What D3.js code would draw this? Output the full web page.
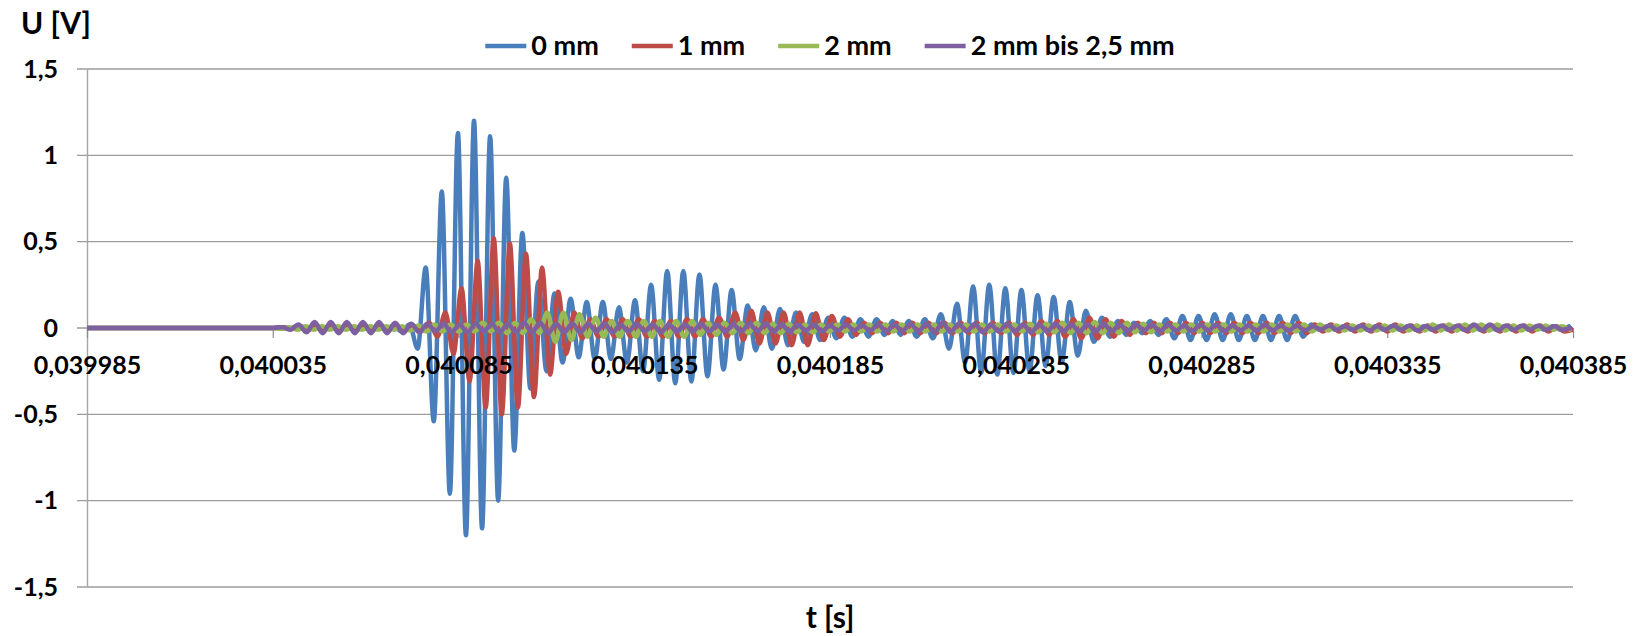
<!DOCTYPE html>
<html>
<head>
<meta charset="utf-8">
<script src="https://cdn.jsdelivr.net/npm/d3@7"></script>
<style>
  body { margin: 0; background: #fff; }
  svg { display: block; font-family: Lato, sans-serif; font-weight: bold; }
</style>
</head>
<body>
<div id="root"></div>
<script>
// ---- data ----
const seriesNames = ['0 mm', '1 mm', '2 mm', '2 mm bis 2,5 mm'];
const xTickValues = [0.039985, 0.040035, 0.040085, 0.040135, 0.040185, 0.040235, 0.040285, 0.040335, 0.040385];
const yTickValues = [-1.5, -1, -0.5, 0, 0.5, 1, 1.5];

// signal is flat until gridStart, then samples every half period (the extrema of the oscillation)
const tFirst = 0.039985;
const gridStart = 0.040035;
const halfPeriod = 2.167e-6;
const phases = [0, 0.45, 0.1, 0.2];

const values0mm = [
  0, 0.005, -0.005, 0.01, -0.01, 0.01, -0.01, 0.01, -0.01, 0.01,
  -0.01, 0.01, -0.01, 0.01, -0.01, 0.015, -0.02, 0.02, -0.12, 0.35,
  -0.54, 0.79, -0.96, 1.13, -1.2, 1.2, -1.16, 1.11, -1.0, 0.87,
  -0.71, 0.55, -0.35, 0.27, -0.25, 0.2, -0.2, 0.17, -0.17, 0.15,
  -0.18, 0.15, -0.18, 0.12, -0.2, 0.16, -0.25, 0.25, -0.3, 0.33,
  -0.32, 0.33, -0.31, 0.31, -0.28, 0.25, -0.24, 0.22, -0.18, 0.13,
  -0.13, 0.12, -0.12, 0.11, -0.1, 0.09, -0.08, 0.08, -0.07, 0.06,
  -0.06, 0.06, -0.05, 0.05, -0.05, 0.05, -0.04, 0.04, -0.04, 0.04,
  -0.05, 0.05, -0.06, 0.08, -0.12, 0.14, -0.2, 0.24, -0.26, 0.25,
  -0.27, 0.23, -0.26, 0.22, -0.25, 0.19, -0.22, 0.18, -0.2, 0.15,
  -0.16, 0.1, -0.08, 0.06, -0.05, 0.04, -0.04, 0.03, -0.03, 0.04,
  -0.04, 0.05, -0.06, 0.07, -0.07, 0.07, -0.07, 0.08, -0.07, 0.08,
  -0.07, 0.07, -0.07, 0.07, -0.07, 0.07, -0.07, 0.07, -0.05, 0.02,
  -0.01, 0.01, -0.01, 0.01, -0.01, 0.01, -0.01, 0.01, -0.01, 0.01,
  -0.01, 0.01, -0.01, 0.01, -0.01, 0.01, -0.01, 0.01, -0.01, 0.01,
  -0.01, 0.01, -0.01, 0.01, -0.01, 0.01, -0.01, 0.01, -0.01, 0.01, -0.01, 0.01
];

const values1mm = [
  0, 0.005, -0.005, 0.01, -0.01, 0.01, -0.01, 0.01, -0.01, 0.01,
  -0.01, 0.01, -0.01, 0.01, -0.01, 0.01, -0.01, 0.015, -0.02, 0.03,
  -0.05, 0.09, -0.15, 0.23, -0.31, 0.39, -0.46, 0.52, -0.5, 0.49,
  -0.46, 0.43, -0.4, 0.35, -0.27, 0.21, -0.15, 0.09, -0.06, 0.05,
  -0.05, 0.05, -0.05, 0.05, -0.05, 0.05, -0.05, 0.04, -0.05, 0.04,
  -0.05, 0.05, -0.05, 0.05, -0.05, 0.06, -0.05, 0.09, -0.07, 0.1,
  -0.09, 0.09, -0.09, 0.09, -0.1, 0.09, -0.1, 0.085, -0.07, 0.07,
  -0.05, 0.05, -0.04, 0.03, -0.03, 0.03, -0.03, 0.03, -0.03, 0.03,
  -0.03, 0.03, -0.03, 0.03, -0.03, 0.03, -0.03, 0.03, -0.03, 0.03,
  -0.03, 0.03, -0.04, 0.03, -0.04, 0.04, -0.04, 0.04, -0.05, 0.05,
  -0.06, 0.06, -0.06, 0.05, -0.05, 0.04, -0.04, 0.03, -0.03, 0.03,
  -0.03, 0.03, -0.03, 0.03, -0.03, 0.03, -0.03, 0.03, -0.03, 0.03,
  -0.03, 0.03, -0.03, 0.03, -0.03, 0.03, -0.03, 0.03, -0.03, 0.02,
  -0.02, 0.02, -0.02, 0.02, -0.02, 0.02, -0.02, 0.02, -0.02, 0.02,
  -0.02, 0.015, -0.02, 0.015, -0.02, 0.015, -0.02, 0.015, -0.02, 0.015,
  -0.02, 0.015, -0.02, 0.015, -0.02, 0.015, -0.02, 0.015, -0.02, 0.01, -0.02, -0.01
];

const values2mm = [
  0, -0.005, 0.005, -0.01, 0.01, -0.01, 0.01, -0.01, 0.01, -0.01,
  0.01, -0.01, 0.01, -0.01, 0.01, -0.01, 0.01, -0.015, 0.015, -0.02,
  0.02, -0.02, 0.02, -0.02, 0.02, -0.02, 0.03, -0.02, 0.03, -0.03,
  0.03, -0.03, 0.05, -0.03, 0.09, -0.08, 0.09, -0.07, 0.08, -0.05,
  0.06, -0.05, 0.04, -0.05, 0.04, -0.05, 0.04, -0.05, 0.04, -0.05,
  0.04, -0.05, 0.04, -0.04, 0.03, -0.04, 0.03, -0.03, 0.03, -0.03,
  0.03, -0.03, 0.025, -0.03, 0.025, -0.025, 0.02, -0.025, 0.02, -0.02,
  0.02, -0.02, 0.02, -0.02, 0.02, -0.02, 0.02, -0.02, 0.02, -0.02,
  0.02, -0.02, 0.02, -0.02, 0.02, -0.02, 0.02, -0.02, 0.02, -0.02,
  0.02, -0.02, 0.02, -0.02, 0.025, -0.025, 0.025, -0.025, 0.03, -0.03,
  0.03, -0.03, 0.035, -0.03, 0.03, -0.03, 0.03, -0.025, 0.025, -0.025,
  0.02, -0.02, 0.02, -0.02, 0.02, -0.02, 0.02, -0.02, 0.02, -0.02,
  0.02, -0.02, 0.02, -0.02, 0.02, -0.02, 0.02, -0.02, 0.02, -0.02,
  0.02, -0.015, 0.015, -0.015, 0.015, -0.015, 0.015, -0.015, 0.015, -0.015,
  0.015, -0.015, 0.015, -0.015, 0.02, -0.015, 0.02, -0.015, 0.02, -0.015,
  0.02, -0.015, 0.02, -0.015, 0.015, -0.015, 0.015, -0.01, 0.015, -0.01, 0.01, -0.01
];

const values2to25mm = [
  0, 0.005, -0.01, 0.02, -0.025, 0.035, -0.03, 0.035, -0.03, 0.035,
  -0.03, 0.035, -0.03, 0.035, -0.03, 0.03, -0.03, 0.025, -0.025, 0.025,
  -0.02, 0.025, -0.025, 0.02, -0.025, 0.025, -0.02, 0.025, -0.025, 0.025,
  -0.025, 0.03, -0.025, 0.03, -0.03, 0.025, -0.025, 0.025, -0.025, 0.025,
  -0.02, 0.025, -0.025, 0.02, -0.02, 0.025, -0.02, 0.02, -0.025, 0.02,
  -0.02, 0.02, -0.02, 0.025, -0.02, 0.02, -0.02, 0.02, -0.02, 0.025,
  -0.02, 0.025, -0.02, 0.02, -0.02, 0.02, -0.015, 0.02, -0.02, 0.015,
  -0.015, 0.02, -0.015, 0.015, -0.015, 0.02, -0.02, 0.02, -0.02, 0.025,
  -0.02, 0.025, -0.025, 0.03, -0.025, 0.025, -0.02, 0.025, -0.025, 0.02,
  -0.02, 0.025, -0.02, 0.02, -0.025, 0.02, -0.02, 0.025, -0.02, 0.02,
  -0.02, 0.02, -0.02, 0.025, -0.02, 0.02, -0.02, 0.02, -0.015, 0.02,
  -0.02, 0.02, -0.015, 0.015, -0.02, 0.02, -0.015, 0.02, -0.02, 0.015,
  -0.015, 0.015, -0.015, 0.02, -0.015, 0.015, -0.015, 0.015, -0.015, 0.01,
  -0.01, 0.015, -0.01, 0.01, -0.01, 0.015, -0.015, 0.01, -0.01, 0.015,
  -0.01, 0.015, -0.015, 0.01, -0.01, 0.015, -0.01, 0.015, -0.015, 0.02,
  -0.015, 0.02, -0.015, 0.015, -0.01, 0.015, -0.01, 0.015, -0.01, 0.01, -0.01, 0
];

const allValues = [values0mm, values1mm, values2mm, values2to25mm];
const colors = ['#4a7ebb', '#be4b48', '#98b954', '#7d60a0'];

// ---- layout ----
const width = 1643;
const height = 636;
const margin = {top: 69, right: 70, bottom: 49, left: 87};
const plotW = width - margin.left - margin.right;
const plotH = height - margin.top - margin.bottom;

const comma = s => String(s).replace('.', ',');
const xFmt = d => comma(d3.format('.6f')(d));

const x = d3.scaleLinear().domain([xTickValues[0], xTickValues[xTickValues.length - 1]]).range([0, plotW]);
const y = d3.scaleLinear().domain([-1.5, 1.5]).range([plotH, 0]);

const svg = d3.select('#root')
    .append('svg')
    .attr('width', width)
    .attr('height', height);

const g = svg.append('g').attr('transform', `translate(${margin.left},${margin.top})`);

// gridlines + y ticks
g.append('g')
    .selectAll('line')
    .data(yTickValues)
    .join('line')
    .attr('x1', -10)
    .attr('x2', plotW)
    .attr('y1', d => y(d))
    .attr('y2', d => y(d))
    .attr('stroke', '#9d9d9d')
    .attr('stroke-width', 1.4);

const yAxis = g.append('g')
    .call(d3.axisLeft(y).tickValues(yTickValues).tickSize(0).tickPadding(29).tickFormat(comma));
yAxis.select('.domain').attr('stroke', '#a6a6a6').attr('stroke-width', 1.4);
yAxis.selectAll('text').attr('font-size', 25).attr('font-family', 'Lato, sans-serif').attr('font-weight', 'bold').attr('fill', '#000');

// x axis line and ticks sit on y = 0, under the traces
const xAxis = g.append('g')
    .attr('transform', `translate(0,${y(0)})`)
    .call(d3.axisBottom(x).tickValues(xTickValues).tickSize(10).tickSizeOuter(0).tickFormat(''));
xAxis.select('.domain').attr('stroke', '#a6a6a6').attr('stroke-width', 1.4);
xAxis.selectAll('.tick line').attr('stroke', '#8c8c8c').attr('stroke-width', 1.2);

// clip for the traces
svg.append('defs').append('clipPath').attr('id', 'plotclip')
    .append('rect').attr('x', 0).attr('y', -5).attr('width', plotW).attr('height', plotH + 10);

const line = d3.line()
    .x(d => x(d.t))
    .y(d => y(d.v))
    .curve(d3.curveMonotoneX);

const series = allValues.map((vals, i) => {
    const pts = [{t: tFirst, v: 0}];
    vals.forEach((v, k) => pts.push({t: gridStart + (k + phases[i]) * halfPeriod, v: v}));
    return pts;
});

g.append('g')
    .attr('clip-path', 'url(#plotclip)')
    .selectAll('path')
    .data(series)
    .join('path')
    .attr('d', line)
    .attr('fill', 'none')
    .attr('stroke', (d, i) => colors[i])
    .attr('stroke-width', 4.5)
    .attr('stroke-linejoin', 'round')
    .attr('stroke-linecap', 'round');

// x tick labels are drawn over the traces
const xLabels = g.append('g')
    .attr('transform', `translate(0,${y(0)})`)
    .call(d3.axisBottom(x).tickValues(xTickValues).tickSize(0).tickFormat(xFmt));
xLabels.select('.domain').remove();
xLabels.selectAll('text')
    .attr('y', 46)
    .attr('dy', 0)
    .attr('font-size', 25)
    .attr('font-family', 'Lato, sans-serif')
    .attr('font-weight', 'bold')
    .attr('fill', '#000');

// legend
const legend = svg.append('g').attr('transform', 'translate(0,46)');
const items = legend.selectAll('g')
    .data(seriesNames)
    .join('g');
items.append('line')
    .attr('x1', 0).attr('x2', 41)
    .attr('stroke', (d, i) => colors[i])
    .attr('stroke-width', 4.5);
items.append('text')
    .attr('x', 46)
    .attr('y', 9)
    .attr('font-size', 27)
    .attr('fill', '#000')
    .text(d => d);
let cursor = 0;
const offsets = [];
items.each(function () {
    offsets.push(cursor);
    const w = d3.select(this).select('text').node().getComputedTextLength();
    cursor += 46 + w + 33;
});
const legendW = cursor - 33;
const legendX = margin.left + plotW / 2 - legendW / 2;
items.attr('transform', (d, i) => `translate(${legendX + offsets[i]},0)`);

// axis titles
svg.append('text')
    .attr('x', 21)
    .attr('y', 34)
    .attr('font-size', 30)
    .attr('fill', '#000')
    .text('U [V]');

svg.append('text')
    .attr('x', margin.left + plotW / 2)
    .attr('y', 628)
    .attr('text-anchor', 'middle')
    .attr('font-size', 30)
    .attr('fill', '#000')
    .text('t [s]');
</script>
</body>
</html>
